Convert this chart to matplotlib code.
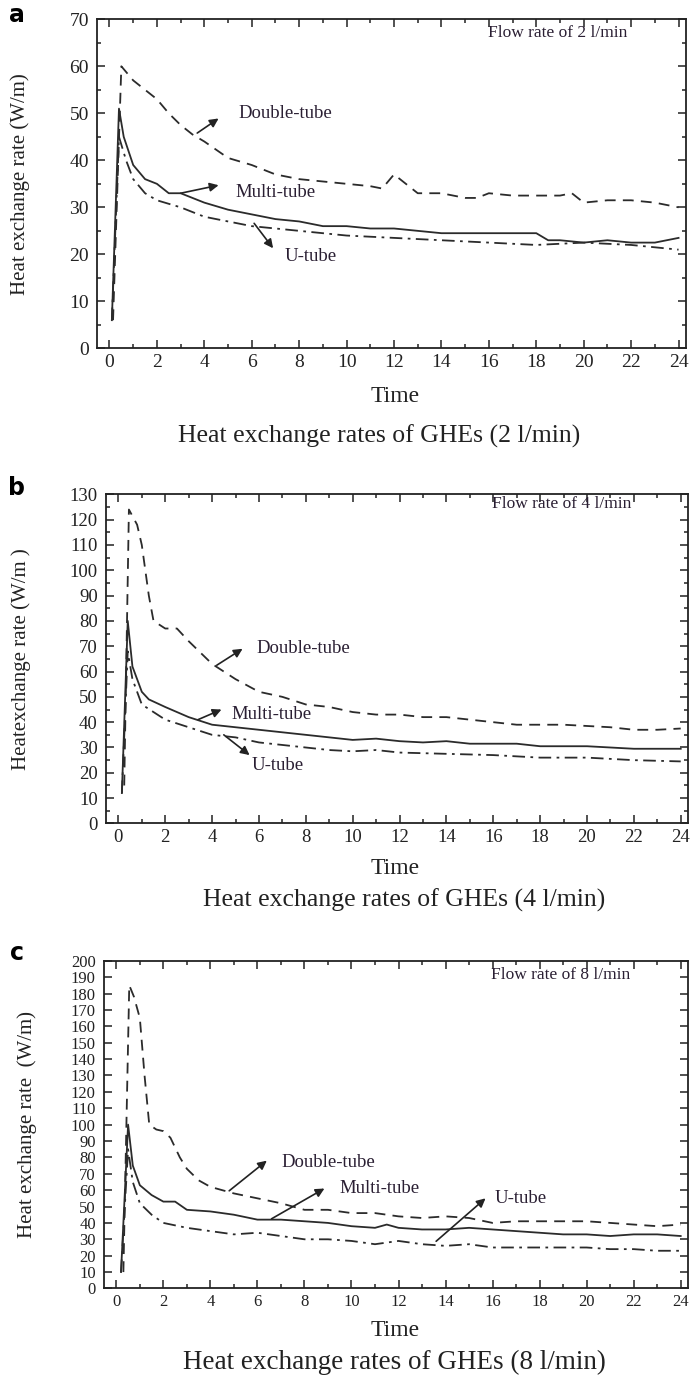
import matplotlib
matplotlib.use('Agg')
import matplotlib.pyplot as plt
from matplotlib.ticker import MultipleLocator

plt.rcParams['font.family'] = ['Liberation Serif', 'DejaVu Serif']

# ---- panel a: 2 l/min ----
a_double_t = [0.15, 0.5, 1, 1.5, 2, 2.5, 3, 3.5, 4, 5, 6, 7, 8, 9, 10, 11, 11.5, 12, 12.5, 13, 14, 15, 15.5, 16, 17, 18, 19, 19.5, 20, 21, 22, 23, 24]
a_double_q = [6, 60, 57, 55, 53, 50, 47.5, 45.5, 44, 40.5, 39, 37, 36, 35.5, 35, 34.5, 34, 37, 35, 33, 33, 32, 32, 33, 32.5, 32.5, 32.5, 33, 31, 31.5, 31.5, 31, 30]
a_multi_t = [0.1, 0.4, 0.6, 1, 1.5, 2, 2.5, 3, 3.5, 4, 5, 6, 7, 8, 9, 10, 11, 12, 13, 14, 15, 16, 17, 18, 18.5, 19, 20, 21, 22, 23, 24]
a_multi_q = [6, 51, 45, 39, 36, 35, 33, 33, 32, 31, 29.5, 28.5, 27.5, 27, 26, 26, 25.5, 25.5, 25, 24.5, 24.5, 24.5, 24.5, 24.5, 23, 23, 22.5, 23, 22.5, 22.5, 23.5]
a_u_t = [0.1, 0.4, 0.7, 1, 1.5, 2, 3, 4, 5, 6, 7, 8, 9, 10, 12, 14, 16, 18, 20, 22, 24]
a_u_q = [6, 45, 40, 36, 33, 31.5, 30, 28, 27, 26, 25.5, 25, 24.5, 24, 23.5, 23, 22.5, 22, 22.5, 22, 21]

# ---- panel b: 4 l/min ----
b_double_t = [0.25, 0.45, 0.8, 1, 1.3, 1.5, 2, 2.5, 3, 4, 5, 6, 7, 8, 9, 10, 11, 12, 13, 14, 15, 16, 17, 18, 19, 20, 21, 22, 23, 24]
b_double_q = [15, 124, 118, 110, 90, 80, 77, 77, 72, 63, 57, 52, 50, 47, 46, 44, 43, 43, 42, 42, 41, 40, 39, 39, 39, 38.5, 38, 37, 37, 37.5]
b_multi_t = [0.15, 0.4, 0.6, 1, 1.3, 2, 3, 4, 5, 6, 7, 8, 9, 10, 11, 12, 13, 14, 15, 16, 17, 18, 19, 20, 21, 22, 23, 24]
b_multi_q = [12, 80, 62, 52, 49, 46, 42, 39, 38, 37, 36, 35, 34, 33, 33.5, 32.5, 32, 32.5, 31.5, 31.5, 31.5, 30.5, 30.5, 30.5, 30, 29.5, 29.5, 29.5]
b_u_t = [0.15, 0.4, 0.6, 1, 1.5, 2, 3, 4, 5, 6, 7, 8, 9, 10, 11, 12, 14, 16, 18, 20, 22, 24]
b_u_q = [12, 68, 57, 47, 44, 41, 38, 35, 34, 32, 31, 30, 29, 28.5, 29, 28, 27.5, 27, 26, 26, 25, 24.5]

# ---- panel c: 8 l/min ----
c_double_t = [0.3, 0.55, 0.75, 1, 1.2, 1.4, 1.7, 2, 2.3, 2.7, 3, 3.5, 4, 5, 6, 7, 8, 9, 10, 11, 12, 13, 14, 15, 16, 17, 18, 19, 20, 21, 22, 23, 24]
c_double_q = [10, 185, 178, 165, 130, 100, 97, 96, 92, 80, 73, 66, 62, 58, 55, 52, 48, 48, 46, 46, 44, 43, 44, 43, 40, 41, 41, 41, 41, 40, 39, 38, 39]
c_multi_t = [0.2, 0.5, 0.7, 1, 1.5, 2, 2.5, 3, 4, 5, 6, 7, 8, 9, 10, 11, 11.5, 12, 13, 14, 15, 16, 17, 18, 19, 20, 21, 22, 23, 24]
c_multi_q = [10, 100, 75, 63, 57, 53, 53, 48, 47, 45, 42, 42, 41, 40, 38, 37, 39, 37, 36, 36, 37, 36, 35, 34, 33, 33, 32, 33, 33, 32]
c_u_t = [0.2, 0.5, 0.7, 1, 1.5, 2, 3, 4, 5, 6, 7, 8, 9, 10, 11, 12, 13, 14, 15, 16, 17, 18, 19, 20, 21, 22, 23, 24]
c_u_q = [10, 85, 65, 52, 45, 40, 37, 35, 33, 34, 32, 30, 30, 29, 27, 29, 27, 26, 27, 25, 25, 25, 25, 25, 24, 24, 23, 23]

panels = [
    dict(letter='a', rect=[0.140, 0.747, 0.848, 0.239], ymax=70, yminor=5,
         series=[(a_double_t, a_double_q), (a_multi_t, a_multi_q), (a_u_t, a_u_q)],
         ylabel='Heat exchange rate (W/m)', flow='Flow rate of 2 l/min', flow_y=67,
         caption='Heat exchange rates of GHEs (2 l/min)', tick_fs=14, cap_fs=18.5,
         notes=[('Double-tube', (7.4, 50), (3.7, 45.8), (4.6, 48.9)),
                ('Multi-tube', (7.0, 33.2), (3.0, 33.0), (4.6, 34.7)),
                ('U-tube', (8.5, 19.5), (6.1, 26.6), (6.9, 21.3))],
         ylab_x=20, time_y=397, cap_y=436, cap_x=379, letter_y=15),
    dict(letter='b', rect=[0.153, 0.402, 0.838, 0.239], ymax=130, yminor=5,
         series=[(b_double_t, b_double_q), (b_multi_t, b_multi_q), (b_u_t, b_u_q)],
         ylabel='Heatexchange rate (W/m )', flow='Flow rate of 4 l/min', flow_y=126,
         caption='Heat exchange rates of GHEs (4 l/min)', tick_fs=13.5, cap_fs=18.5,
         notes=[('Double-tube', (7.9, 69), (4.2, 62.5), (5.3, 69)),
                ('Multi-tube', (6.55, 43), (3.4, 41), (4.4, 45)),
                ('U-tube', (6.8, 22.7), (4.5, 35), (5.6, 27))],
         ylab_x=21, time_y=868, cap_y=900, cap_x=404, letter_y=488),
    dict(letter='c', rect=[0.150, 0.0643, 0.841, 0.238], ymax=200, yminor=None,
         series=[(c_double_t, c_double_q), (c_multi_t, c_multi_q), (c_u_t, c_u_q)],
         ylabel='Heat exchange rate  (W/m)', flow='Flow rate of 8 l/min', flow_y=191,
         caption='Heat exchange rates of GHEs (8 l/min)', tick_fs=12, cap_fs=19.5,
         notes=[('Double-tube', (9.0, 76.7), (4.8, 59.6), (6.4, 78)),
                ('Multi-tube', (11.2, 61), (6.6, 42.5), (8.85, 61)),
                ('U-tube', (17.2, 55), (13.6, 28.8), (15.7, 55))],
         ylab_x=27, time_y=1330, cap_y=1362, cap_x=394, letter_y=953),
]

W, H = 694, 1377
fig = plt.figure(figsize=(W / 100, H / 100), dpi=100)

styles = [dict(linestyle=(0, (6, 4))), dict(linestyle='-'), dict(linestyle=(0, (7, 3, 1.5, 3)))]
line_color = '#2b2b2b'
text_color = '#2a1f33'

for p in panels:
    ax = fig.add_axes(p['rect'])
    for (t, q), st in zip(p['series'], styles):
        ax.plot(t, q, color=line_color, linewidth=1.3, **st)

    ax.set_xlim(-0.52, 24.3)
    ax.set_ylim(0, p['ymax'])
    ax.xaxis.set_major_locator(MultipleLocator(2))
    ax.xaxis.set_minor_locator(MultipleLocator(1))
    ax.yaxis.set_major_locator(MultipleLocator(10))
    if p['yminor']:
        ax.yaxis.set_minor_locator(MultipleLocator(p['yminor']))
    ax.tick_params(which='both', direction='in', top=True, right=True,
                   labelsize=p['tick_fs'], colors='#222222')
    ax.tick_params(which='major', length=6, width=1.1)
    ax.tick_params(which='minor', length=3, width=1.1)
    ax.tick_params(axis='y', pad=6)
    ax.tick_params(axis='x', pad=4)
    for s in ax.spines.values():
        s.set_linewidth(1.3)
        s.set_color('#222222')

    # y label placed in figure pixels
    r = p['rect']
    fig.text(p['ylab_x'] / W, r[1] + r[3] / 2, p['ylabel'], rotation=90, fontsize=15,
             color='#222222', ha='center', va='center')

    ax.text(18.9, p['flow_y'], p['flow'], fontsize=12.5, color=text_color,
            ha='center', va='center')
    for label, txt_xy, start, head in p['notes']:
        ax.annotate('', xy=head, xytext=start,
                    arrowprops=dict(arrowstyle='-|>', color='#222222', lw=1.2,
                                    mutation_scale=13, shrinkA=0, shrinkB=0))
        ax.text(txt_xy[0], txt_xy[1], label, fontsize=13.5, color=text_color,
                ha='center', va='center')

    fig.text(395 / W, 1 - p['time_y'] / H, 'Time', fontsize=17,
             color='#222222', ha='center', va='center')
    fig.text(p['cap_x'] / W, 1 - p['cap_y'] / H, p['caption'], fontsize=p['cap_fs'],
             color='#222222', ha='center', va='center')
    fig.text(17 / W, 1 - p['letter_y'] / H, p['letter'], fontsize=17, fontweight='bold',
             family='DejaVu Sans', color='black', ha='center', va='center')

fig.savefig('out.png', dpi=100)
